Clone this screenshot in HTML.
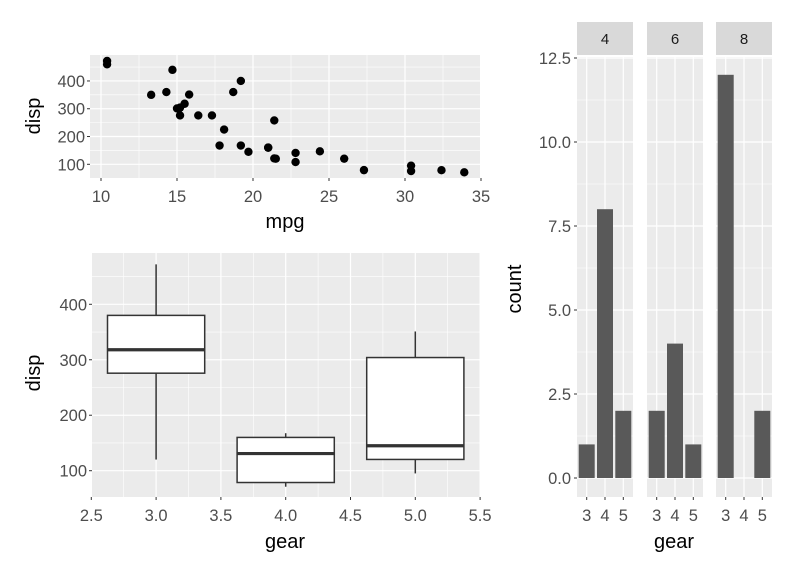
<!DOCTYPE html>
<html><head><meta charset="utf-8"><style>
html,body{margin:0;padding:0;background:#fff;}
svg text{font-family:"Liberation Sans",Arial,sans-serif;}
</style></head><body>
<svg id="s" width="795" height="573" xmlns="http://www.w3.org/2000/svg"></svg>
<script>
const s=document.getElementById('s');let h='';
const rect=(x,y,w,hh,f,st,sw)=>h+=`<rect x="${x}" y="${y}" width="${w}" height="${hh}" fill="${f}" ${st?`stroke="${st}" stroke-width="${sw}"`:''}/>`;
const line=(x1,y1,x2,y2,c,w)=>h+=`<line x1="${x1}" y1="${y1}" x2="${x2}" y2="${y2}" stroke="${c}" stroke-width="${w}"/>`;
const text=(x,y,t,sz,c,anc,rot)=>h+=`<text x="${x}" y="${y}" font-size="${sz}px" fill="${c}" text-anchor="${anc||'middle'}" ${rot?`transform="rotate(-90 ${x} ${y})"`:''}>${t}</text>`;
const TS=16.5,AS=20;
// Scatter
{const L=90,R=480,T=55,B=178;const X=v=>101+(v-10)*15.2,Y=v=>164.3-(v-100)*0.2778;
rect(L,T,R-L,B-T,'#ebebeb');
for(let v=12.5;v<35;v+=5)line(X(v),T,X(v),B,'#fff',0.6);
for(let v=50;v<=450;v+=100)if(Y(v)>T&&Y(v)<B)line(L,Y(v),R,Y(v),'#fff',0.6);
for(let v=10;v<=35;v+=5)line(X(v),T,X(v),B,'#fff',1.2);
for(let v=100;v<=400;v+=100)line(L,Y(v),R,Y(v),'#fff',1.2);
const d=[[21,160],[21,160],[22.8,108],[21.4,258],[18.7,360],[18.1,225],[14.3,360],[24.4,146.7],[22.8,140.8],[19.2,167.6],[17.8,167.6],[16.4,275.8],[17.3,275.8],[15.2,275.8],[10.4,472],[10.4,460],[14.7,440],[32.4,78.7],[30.4,75.7],[33.9,71.1],[21.5,120.1],[15.5,318],[15.2,304],[13.3,350],[19.2,400],[27.3,79],[26,120.3],[30.4,95.1],[15.8,351],[19.7,145],[15,301],[21.4,121]];
d.forEach(p=>h+=`<circle cx="${X(p[0])}" cy="${Y(p[1])}" r="4.2" fill="#000"/>`);
for(let v=10;v<=35;v+=5){line(X(v),B,X(v),B+3,'#333',1);text(X(v),B+24,v,TS,'#4d4d4d');}
for(let v=100;v<=400;v+=100){line(L-3,Y(v),L,Y(v),'#333',1);text(L-5,Y(v)+6,v,TS,'#4d4d4d','end');}
text(285,228,'mpg',AS,'#000');text(40,116,'disp',AS,'#000','middle',1);}
// Boxplot
{const L=92,R=480,T=253,B=497;const X=v=>91.3+(v-2.5)*129.6,Y=v=>470.7-(v-100)*0.5547;
rect(L,T,R-L,B-T,'#ebebeb');
for(let v=2.75;v<5.5;v+=0.5)line(X(v),T,X(v),B,'#fff',0.6);
for(let v=50;v<=450;v+=100)if(Y(v)>T&&Y(v)<B)line(L,Y(v),R,Y(v),'#fff',0.6);
for(let v=2.5;v<=5.5;v+=0.5)line(X(v),T,X(v),B,'#fff',1.2);
for(let v=100;v<=400;v+=100)line(L,Y(v),R,Y(v),'#fff',1.2);
const bx=[[3,120.1,275.8,318,380,472],[4,71.1,78.7,130.9,160,167.6],[5,95.1,120.3,145,304,351]];
bx.forEach(b=>{const c=X(b[0]),w=0.75*129.6;
line(c,Y(b[1]),c,Y(b[2]),'#333',1.5);line(c,Y(b[4]),c,Y(b[5]),'#333',1.5);
rect(c-w/2,Y(b[4]),w,Y(b[2])-Y(b[4]),'#fff','#333',1.5);
line(c-w/2,Y(b[3]),c+w/2,Y(b[3]),'#333',3.2);});
for(let v=2.5;v<=5.5;v+=0.5){line(X(v),B,X(v),B+3,'#333',1);text(X(v),B+24,v.toFixed(1),TS,'#4d4d4d');}
for(let v=100;v<=400;v+=100){line(L-3,Y(v),L,Y(v),'#333',1);text(L-5,Y(v)+6,v,TS,'#4d4d4d','end');}
text(285,548,'gear',AS,'#000');text(40,373,'disp',AS,'#000','middle',1);}
// Bars
{const T=57,B=497;const Y=v=>478-v*33.6;const fx=[577,647,716],fw=56;
const cnt=[[1,8,2],[2,4,1],[12,0,2]],lab=['4','6','8'];
fx.forEach((x0,i)=>{rect(x0,T,fw,B-T,'#ebebeb');rect(x0,22,fw,33,'#d9d9d9');
text(x0+fw/2,44,lab[i],15,'#1a1a1a');
const X=v=>x0+fw/2+(v-4)*18.3;
for(let v=1.25;v<=12.5;v+=2.5)line(x0,Y(v),x0+fw,Y(v),'#fff',0.6);
for(let v=0;v<=12.5;v+=2.5)line(x0,Y(v),x0+fw,Y(v),'#fff',1.2);
for(let g=3;g<=5;g++){line(X(g),T,X(g),B,'#fff',1.2);
const c=cnt[i][g-3];if(c>0)rect(X(g)-8,Y(c),16,Y(0)-Y(c),'#595959');
line(X(g),B,X(g),B+3,'#333',1);text(X(g),B+24,g,TS,'#4d4d4d');}});
for(let v=0;v<=12.5;v+=2.5){line(574,Y(v),577,Y(v),'#333',1);text(571,Y(v)+6,v.toFixed(1),TS,'#4d4d4d','end');}
text(674,548,'gear',AS,'#000');text(521,289,'count',AS,'#000','middle',1);}
s.innerHTML=h;
</script>
</body></html>
